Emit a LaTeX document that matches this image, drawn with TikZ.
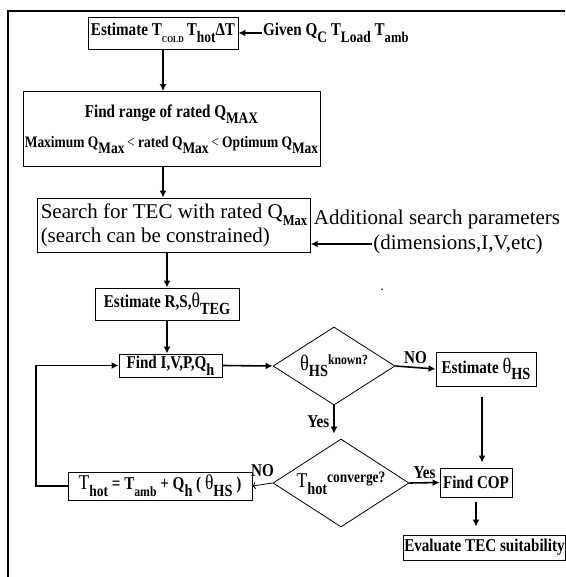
\documentclass[tikz,border=0pt]{standalone}
\usepackage{fontspec}
\setmainfont{Liberation Serif}
\newfontfamily\narrowbf[FakeStretch=0.84]{Liberation Serif}
\usetikzlibrary{arrows.meta, shapes.geometric, positioning, calc}
\newcommand{\sbs}[2][14]{\raisebox{-0.8ex}{\fontsize{#1}{#1}\selectfont #2}}
\newcommand{\sps}[2][14]{\raisebox{0.7ex}{\fontsize{#1}{#1}\selectfont #2}}

\begin{document}
\begin{tikzpicture}[x=1pt, y=-1pt,
    box/.style={draw, line width=0.9pt, inner sep=1pt, align=center, font=\narrowbf\bfseries\fontsize{18}{20}\selectfont},
    plainbox/.style={draw, line width=0.9pt, inner sep=3pt, align=left, font=\fontsize{21}{24}\selectfont},
    plain/.style={inner sep=1pt, font=\fontsize{21}{24}\selectfont},
    decision/.style={diamond, draw, line width=0.8pt, inner sep=-6pt, align=center, font=\narrowbf\bfseries\fontsize{18}{20}\selectfont},
    lbl/.style={inner sep=1pt, font=\narrowbf\bfseries\fontsize{18}{20}\selectfont},
    arr/.style={-{Latex[length=7pt, width=7pt]}, line width=1.6pt},
    thinarr/.style={-{To[length=3pt, width=7pt]}, line width=0.8pt}
]
    \useasboundingbox (0,0) rectangle (565,577);
    \draw[line width=1.8pt] (8,577) -- (8,11) -- (565,11);

    \node[box, minimum width=150pt, minimum height=32pt] (est) at (163,33) {Estimate T\sbs[9]{COLD}\,T\sbs[16]{hot}ΔT};
    \node[lbl, anchor=west] (given) at (262,33) {Given Q\sbs[16]{C} T\sbs[16]{Load} T\sbs[15]{amb}};
    \node[box, minimum width=297pt, minimum height=75pt] (range) at (171.5,129) {Find range of rated Q\sbs[16]{MAX}\\[10pt]
        \fontsize{16}{18}\selectfont Maximum Q\sbs[16]{Max}\,\textmd{<} rated Q\sbs[16]{Max}\,\textmd{<} Optimum Q\sbs[16]{Max}};
    \node[plainbox, minimum width=262pt, minimum height=54pt] (search) at (174,225) {Search for TEC with rated Q\sbs[15]{\narrowbf\bfseries Max}\\(search can be constrained)};
    \node[plain] (addl) at (437,219) {Additional search parameters};
    \node[plain] (dims) at (458,244) {(dimensions,I,V,etc)};
    \node[box, minimum width=144pt, minimum height=32pt] (teg) at (167,304) {Estimate R,S,{\mdseries\fontsize{21}{21}\selectfont θ}\sbs[17]{TEG}};
    \node[font=\bfseries] (speck) at (382,290) {.};
    \node[box, minimum width=103pt, minimum height=23pt] (find) at (170.5,365.5) {Find I,V,P,Q\sbs[17]{h}};
    \node[decision, minimum width=122pt, minimum height=78pt] (known) at (334,366) {{\mdseries\fontsize{22}{22}\selectfont θ}\sbs[17]{HS}\sps[14]{known?}};
    \node[box, minimum width=100pt, minimum height=34pt] (esths) at (486,369) {Estimate {\mdseries\fontsize{22}{22}\selectfont θ}\sbs[17]{HS}};
    \node[decision, minimum width=136pt, minimum height=81pt] (conv) at (341,483) {{\mdseries\fontsize{21}{21}\selectfont T}\sbs[17]{hot}\sps[16]{converge?}};
    \node[box, minimum width=72pt, minimum height=29pt] (cop) at (476,482.5) {Find COP};
    \node[box, minimum width=184pt, minimum height=28pt] (thot) at (160,486) {{\mdseries\fontsize{21}{21}\selectfont T}\sbs[16]{hot} = T\sbs[14]{amb} + Q\sbs[17]{h} ( {\mdseries\fontsize{21}{21}\selectfont θ}\sbs[17]{HS} )};
    \node[box, minimum width=159pt, minimum height=25pt] (eval) at (484.5,547.5) {Evaluate TEC suitability};
    \coordinate (loop) at (36,486);

    \draw[arr] (given) -- (est);
    \draw[arr] (est.south) -- (est.south |- range.north);
    \draw[arr] (est.south |- range.south) -- (est.south |- search.north);
    \draw[arr] (dims.west) -- (dims.west -| search.east);
    \draw[arr] (teg.north |- search.south) -- (teg.north);
    \draw[arr] (teg.south) -- (teg.south |- find.north);
    \draw[arr] (find.east) -- node[pos=0.14, above=-5pt, font=\tiny] {..} (known.west);
    \draw[arr] (known.east) -- node[lbl, above=2pt] {NO} (esths.west);
    \draw[arr, shorten >=5pt] (known.south) -- node[lbl, left=3pt] {Yes} (known.south |- conv.north);
    \draw[arr, shorten <=11pt, shorten >=5pt] (esths.south -| cop.north) ++(6,0) coordinate (drop) -- (drop |- cop.north);
    \draw[arr] (conv.east) -- node[lbl, above=2pt] {Yes} (cop.west);
    \draw[thinarr] (conv.west) -- node[lbl, above=6pt] {NO} (thot.east);
    \draw[arr] (thot.west) -- (loop) |- (find.west);
    \draw[arr, shorten <=5pt, shorten >=8pt] (cop.south) -- (cop.south |- eval.north);
\end{tikzpicture}
\end{document}
